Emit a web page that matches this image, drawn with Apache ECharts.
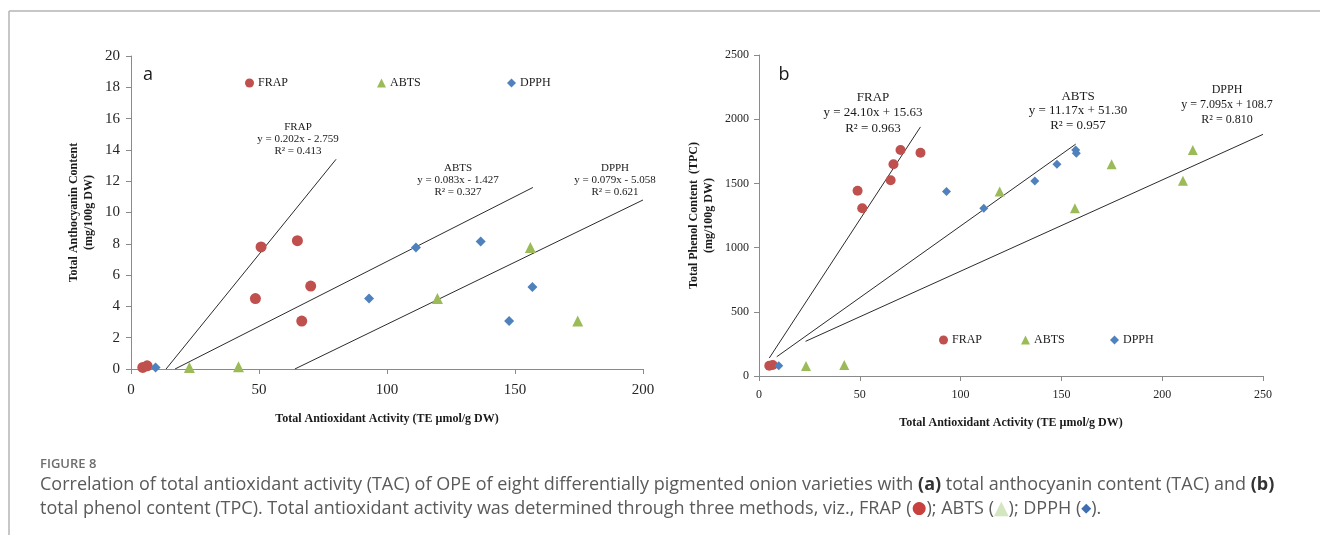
<!DOCTYPE html>
<html>
<head>
<meta charset="utf-8">
<script src="https://cdn.jsdelivr.net/npm/echarts@6/dist/echarts.min.js"></script>
<style>
  html, body { margin: 0; padding: 0; background: #fff; }
  #chart { width: 1320px; height: 539px; }
</style>
</head>
<body>
<div id="chart"></div>
<script>
// panel a: TAC (mg/100g DW) vs antioxidant activity
const aFrap = [[4.6, 0.1], [6.3, 0.2], [48.6, 4.5], [50.8, 7.8], [65.0, 8.2], [66.7, 3.06], [70.2, 5.3]];
const aAbts = [[22.8, 0.1], [42.0, 0.15], [119.7, 4.5], [156.0, 7.76], [174.5, 3.06]];
const aDpph = [[9.6, 0.1], [93.0, 4.5], [111.3, 7.76], [136.6, 8.14], [147.7, 3.06], [156.8, 5.24]];
// trendline end points
const aFrapFit = [[13.7, 0], [80.1, 13.4]];
const aAbtsFit = [[17.2, 0], [157.0, 11.6]];
const aDpphFit = [[64.0, 0], [200.0, 10.8]];

// panel b: TPC (mg/100g DW) vs antioxidant activity
const bFrap = [[5.1, 80], [6.8, 86], [48.9, 1443], [51.2, 1306], [65.3, 1524], [66.7, 1649], [70.2, 1760], [80.1, 1739]];
const bAbts = [[23.3, 78], [42.3, 86], [119.4, 1436], [156.7, 1306], [174.9, 1649], [210.3, 1521], [215.2, 1760]];
const bDpph = [[9.8, 80], [93.0, 1436], [111.5, 1306], [136.8, 1519], [147.8, 1649], [157.1, 1760], [157.4, 1734]];
const bFrapFit = [[5.1, 140], [80.1, 1940]];
const bAbtsFit = [[8.8, 150], [157.1, 1806]];
const bDpphFit = [[23.1, 270], [250.0, 1882]];

const methods = ["FRAP", "ABTS", "DPPH"];
const colors = { FRAP: "#c0504d", ABTS: "#9bbb59", DPPH: "#4f81bd" };
const symbols = { FRAP: "circle", ABTS: "triangle", DPPH: "diamond" };

const aFits = [
  ["FRAP", "y = 0.202x - 2.759", "R² = 0.413"],
  ["ABTS", "y = 0.083x - 1.427", "R² = 0.327"],
  ["DPPH", "y = 0.079x - 5.058", "R² = 0.621"],
];
const bFits = [
  ["FRAP", "y = 24.10x + 15.63", "R² = 0.963"],
  ["ABTS", "y = 11.17x + 51.30", "R² = 0.957"],
  ["DPPH", "y = 7.095x + 108.7", "R² = 0.810"],
];

const serif = "'Liberation Serif', 'Times New Roman', serif";
const sans = "'Open Sans', 'Noto Sans', sans-serif";
const axisGray = "#8a8a8a";

const chart = echarts.init(document.getElementById("chart"));

function valueAxis(gridIndex, max, interval, labelSize, margin, name, nameGap, isY) {
  return {
    type: "value",
    gridIndex,
    min: 0,
    max,
    interval,
    name,
    nameLocation: "middle",
    nameGap,
    nameRotate: isY ? 90 : 0,
    nameTextStyle: {
      fontFamily: serif,
      fontWeight: "bold",
      fontSize: 12,
      color: "#1a1a1a",
      lineHeight: 15,
    },
    axisLine: { show: true, lineStyle: { color: axisGray, width: 1 } },
    axisTick: { show: true, length: 5, lineStyle: { color: axisGray } },
    axisLabel: {
      fontFamily: serif,
      fontSize: labelSize,
      color: "#262626",
      margin,
      formatter: (v) => String(v),
    },
    splitLine: { show: false },
  };
}

function scatter(name, data, axisIdx, size) {
  return {
    name,
    type: "scatter",
    xAxisIndex: axisIdx,
    yAxisIndex: axisIdx,
    data,
    symbol: symbols[name],
    symbolSize: name === "DPPH" ? size - 1 : size,
    itemStyle: { color: colors[name], opacity: 1 },
    z: 3,
  };
}

function fitLine(data, axisIdx) {
  return {
    type: "line",
    xAxisIndex: axisIdx,
    yAxisIndex: axisIdx,
    data,
    symbol: "none",
    silent: true,
    lineStyle: { color: "#2b2b2b", width: 1 },
    z: 2,
  };
}

function legendAt(name, left, top) {
  return {
    data: [{ name, icon: symbols[name] }],
    left,
    top,
    itemWidth: 9,
    itemHeight: 9,
    itemGap: 0,
    padding: 0,
    selectedMode: false,
    textStyle: { fontFamily: serif, fontSize: 12, color: "#1a1a1a", padding: [0, 0, 0, -1] },
  };
}

function fitText(lines, x, y, size, lh) {
  return {
    type: "text",
    x,
    y,
    style: {
      text: lines.join("\n"),
      align: "center",
      verticalAlign: "middle",
      fontFamily: serif,
      fontSize: size,
      lineHeight: lh,
      fill: "#1a1a1a",
    },
  };
}

const option = {
  backgroundColor: "#fff",
  animation: false,
  grid: [
    { left: 131, top: 56, width: 512, height: 313, outerBoundsMode: "none" },
    { left: 759, top: 55, width: 504, height: 321, outerBoundsMode: "none" },
  ],
  xAxis: [
    valueAxis(0, 200, 50, 15, 14, "Total Antioxidant Activity (TE µmol/g DW)", 42, false),
    valueAxis(1, 250, 50, 12, 13, "Total Antioxidant Activity (TE µmol/g DW)", 39, false),
  ],
  yAxis: [
    valueAxis(0, 20, 2, 15, 11, "Total Anthocyanin Content\n(mg/100g DW)", 35, true),
    valueAxis(1, 2500, 500, 12, 10, "Total Phenol Content  (TPC)\n(mg/100g DW)", 43, true),
  ],
  legend: [
    legendAt("FRAP", 245, 77),
    legendAt("ABTS", 377, 77),
    legendAt("DPPH", 507, 77),
    legendAt("FRAP", 939, 334),
    legendAt("ABTS", 1021, 334),
    legendAt("DPPH", 1110, 334),
  ],
  series: [
    fitLine(aFrapFit, 0),
    fitLine(aAbtsFit, 0),
    fitLine(aDpphFit, 0),
    scatter("FRAP", aFrap, 0, 11),
    scatter("ABTS", aAbts, 0, 11),
    scatter("DPPH", aDpph, 0, 11),
    fitLine(bFrapFit, 1),
    fitLine(bAbtsFit, 1),
    fitLine(bDpphFit, 1),
    scatter("FRAP", bFrap, 1, 10),
    scatter("ABTS", bAbts, 1, 10),
    scatter("DPPH", bDpph, 1, 10),
  ],
  graphic: [
    // figure frame
    { type: "line", shape: { x1: 9, y1: 11, x2: 1320, y2: 11 }, style: { stroke: "#b5b5b5", lineWidth: 1.5 } },
    { type: "line", shape: { x1: 9, y1: 11, x2: 9, y2: 535 }, style: { stroke: "#b5b5b5", lineWidth: 1.5 } },
    // panel letters
    { type: "text", x: 148, y: 75, style: { text: "a", align: "center", verticalAlign: "middle", fontFamily: sans, fontSize: 18, fill: "#1a1a1a" } },
    { type: "text", x: 784, y: 75, style: { text: "b", align: "center", verticalAlign: "middle", fontFamily: sans, fontSize: 18, fill: "#1a1a1a" } },
    // trendline equations
    fitText(aFits[0], 298, 139, 11, 12),
    fitText(aFits[1], 458, 180, 11, 12),
    fitText(aFits[2], 615, 180, 11, 12),
    fitText(bFits[0], 873, 113, 13, 15.5),
    fitText(bFits[1], 1078, 111, 13, 14.5),
    fitText(bFits[2], 1227, 105, 12, 15),
    // caption
    {
      type: "text", x: 40, y: 464,
      style: { text: "FIGURE 8", verticalAlign: "middle", fontFamily: sans, fontSize: 13, fontWeight: 600, fill: "#6e6e6e" },
    },
    {
      type: "text", x: 40, y: 497,
      style: {
        text:
          "Correlation of total antioxidant activity (TAC) of OPE of eight differentially pigmented onion varieties with {b|(a)} total anthocyanin content (TAC) and {b|(b)}\n" +
          "total phenol content (TPC). Total antioxidant activity was determined through three methods, viz., FRAP ({r|●}); ABTS ({g|▲}); DPPH ({d|◆}).",
        verticalAlign: "middle",
        fontFamily: sans,
        fontSize: 18,
        lineHeight: 24,
        fill: "#5a5a5a",
        rich: {
          b: { fontFamily: sans, fontSize: 18, fontWeight: "bold", fill: "#333" },
          r: { fontFamily: "'DejaVu Sans'", fontSize: 17, fill: "#c9413e" },
          g: { fontFamily: "'DejaVu Sans'", fontSize: 19, fill: "#d3e6bf" },
          d: { fontFamily: "'DejaVu Sans'", fontSize: 13, fill: "#3f6fb0" },
        },
      },
    },
  ],
};

chart.setOption(option);
</script>
</body>
</html>
